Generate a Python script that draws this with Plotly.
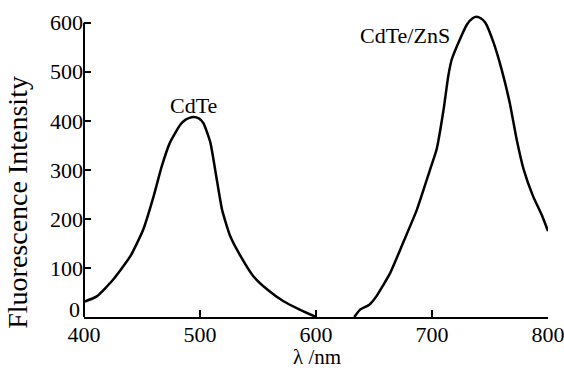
import plotly.graph_objects as go

# CdTe emission spectrum
cdte_wl = [400, 411, 425, 440, 451, 460, 467, 474, 483, 488, 494, 499, 503, 509, 514, 519, 526, 535, 546, 558, 572, 586, 600]
cdte_int = [31, 42, 76, 124, 178, 246, 307, 355, 392, 403, 408, 405, 395, 355, 287, 219, 165, 124, 83, 56, 32, 15, 0]

# CdTe/ZnS emission spectrum
zns_wl = [633, 638, 646, 652, 664, 675, 687, 698, 704, 710, 714, 717, 724, 730, 735, 738.5, 742, 746, 753, 760, 767, 773, 779, 787, 795, 800]
zns_int = [0, 15, 25, 42, 90, 151, 219, 298, 342, 423, 491, 525, 566, 596, 609, 612, 609, 600, 560, 505, 437, 362, 301, 247, 206, 175]

x_ticks = [400, 500, 600, 700, 800]
y_ticks = [0, 100, 200, 300, 400, 500, 600]
y_axis_top = 600

FONT = "Liberation Serif, Times New Roman, serif"

fig = go.Figure()
for wl, inten in ((cdte_wl, cdte_int), (zns_wl, zns_int)):
    fig.add_trace(go.Scatter(x=wl, y=inten, mode="lines",
                             line=dict(color="black", width=2.5, shape="spline", smoothing=0.5),
                             showlegend=False, hoverinfo="skip"))

y_text = ["" if v == 0 else str(v) for v in y_ticks]

fig.update_layout(
    width=564, height=371,
    margin=dict(l=84, r=16, t=8, b=54, autoexpand=False),
    paper_bgcolor="white", plot_bgcolor="white",
    font=dict(family=FONT, size=22, color="black"),
    xaxis=dict(range=[400, 800], tickvals=x_ticks, ticktext=[str(v) for v in x_ticks],
               showline=True, linecolor="black", linewidth=2, ticks="inside",
               ticklen=7, tickwidth=2, tickcolor="black", showgrid=False, zeroline=False,
               ticklabeloverflow="allow", automargin=False, ticklabelstandoff=-3,
               tickfont=dict(family=FONT, size=22, color="black")),
    yaxis=dict(range=[0, 630], tickvals=y_ticks, ticktext=y_text,
               showline=False, ticks="inside",
               ticklen=7, tickwidth=2, tickcolor="black", showgrid=False, zeroline=False,
               ticklabeloverflow="allow", automargin=False,
               tickfont=dict(family=FONT, size=22, color="black")),
    shapes=[
        dict(type="line", xref="paper", yref="y", x0=0, x1=0, y0=0, y1=y_axis_top,
             line=dict(color="black", width=2)),
    ],
    annotations=[
        dict(x=-0.005, y=15, xref="paper", yref="y", text="0", showarrow=False,
             font=dict(family=FONT, size=22), xanchor="right", yanchor="middle"),
        dict(x=494.8, y=432, xref="x", yref="y", text="CdTe", showarrow=False,
             font=dict(family=FONT, size=22), xanchor="center", yanchor="middle"),
        dict(x=676.3, y=574, xref="x", yref="y", text="CdTe/ZnS", showarrow=False,
             font=dict(family=FONT, size=22), xanchor="center", yanchor="middle"),
        dict(x=-0.142, y=0.37, xref="paper", yref="paper", text="Fluorescence Intensity",
             showarrow=False, textangle=-90, font=dict(family=FONT, size=28),
             xanchor="center", yanchor="middle"),
        dict(x=0.502, y=-0.172, xref="paper", yref="paper", text="λ /nm",
             showarrow=False, font=dict(family=FONT, size=21),
             xanchor="center", yanchor="bottom", borderpad=0),
    ],
)

fig.write_html("out.html")
